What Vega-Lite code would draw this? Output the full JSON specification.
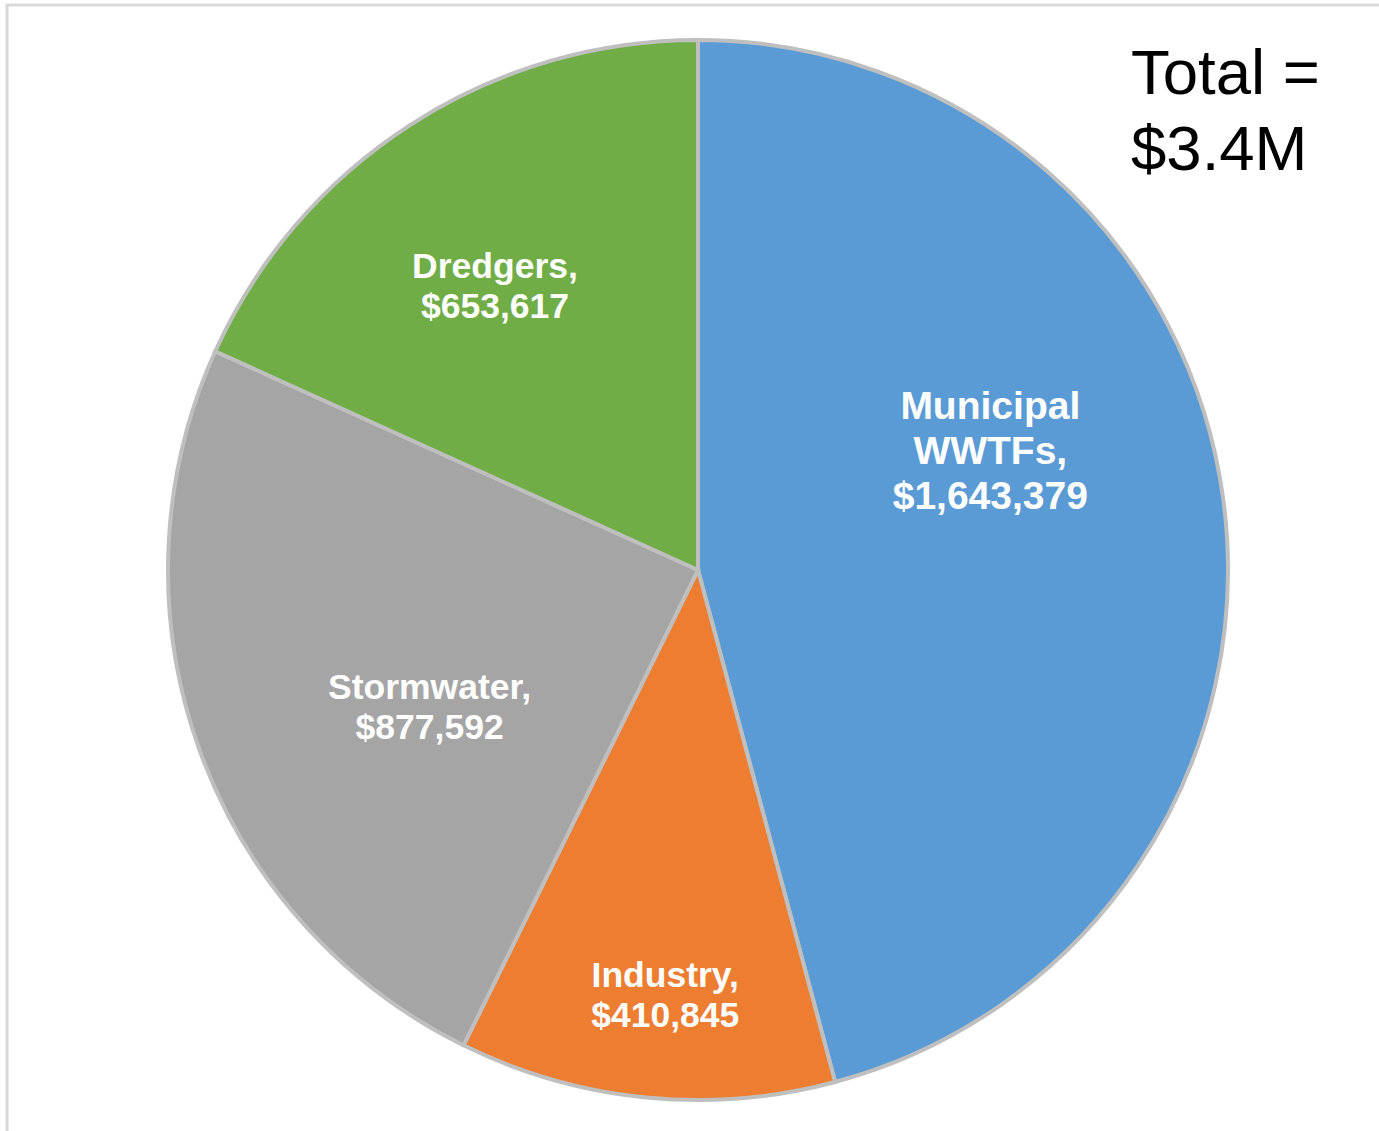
{
  "$schema": "https://vega.github.io/schema/vega-lite/v6.json",
  "autosize": {"type": "none"},
  "padding": {"left": 7, "top": 5, "right": 0, "bottom": 0},
  "width": 1382,
  "height": 1130,
  "background": "white",
  "view": {"stroke": "#D9D9D9", "strokeWidth": 3},
  "title": {
    "text": ["Total =", "$3.4M"],
    "orient": "top",
    "anchor": "end",
    "frame": "group",
    "align": "left",
    "baseline": "top",
    "offset": 0,
    "dx": -258,
    "dy": 178,
    "font": "Liberation Sans",
    "fontSize": 63.5,
    "fontWeight": "normal",
    "color": "#000000",
    "lineHeight": 76
  },
  "data": {
    "values": [
      {"category": "Municipal WWTFs", "value": 1643379, "order": 1, "label": "Municipal\nWWTFs,\n$1,643,379"},
      {"category": "Industry", "value": 410845, "order": 2, "label": "Industry,\n$410,845"},
      {"category": "Stormwater", "value": 877592, "order": 3, "label": "Stormwater,\n$877,592"},
      {"category": "Dredgers", "value": 653617, "order": 4, "label": "Dredgers,\n$653,617"}
    ]
  },
  "encoding": {
    "theta": {"field": "value", "type": "quantitative", "stack": true},
    "order": {"field": "order", "type": "quantitative", "sort": "ascending"}
  },
  "layer": [
    {
      "mark": {"type": "arc", "outerRadius": 530, "stroke": "#BFBFBF", "strokeWidth": 4},
      "encoding": {
        "color": {
          "field": "category",
          "type": "nominal",
          "scale": {
            "domain": ["Municipal WWTFs", "Industry", "Stormwater", "Dredgers"],
            "range": ["#5B9BD5", "#ED7D31", "#A5A5A5", "#70AD47"]
          },
          "legend": null
        }
      }
    },
    {
      "mark": {"type": "text", "radius": 315, "dx": -20, "dy": -122, "font": "Liberation Sans", "fontWeight": "bold", "fontSize": 39, "lineHeight": 45, "lineBreak": "\n", "color": "white", "align": "center", "baseline": "middle"},
      "encoding": {
        "text": {"field": "label", "type": "nominal"},
        "opacity": {"condition": {"test": "datum.category === 'Municipal WWTFs'", "value": 1}, "value": 0}
      }
    },
    {
      "mark": {"type": "text", "radius": 426, "dx": 9, "dy": -18, "font": "Liberation Sans", "fontWeight": "bold", "fontSize": 35.5, "lineHeight": 40, "lineBreak": "\n", "color": "white", "align": "center", "baseline": "middle"},
      "encoding": {
        "text": {"field": "label", "type": "nominal"},
        "opacity": {"condition": {"test": "datum.category === 'Industry'", "value": 1}, "value": 0}
      }
    },
    {
      "mark": {"type": "text", "radius": 301, "dx": 15, "dy": 17, "font": "Liberation Sans", "fontWeight": "bold", "fontSize": 35.5, "lineHeight": 40, "lineBreak": "\n", "color": "white", "align": "center", "baseline": "middle"},
      "encoding": {
        "text": {"field": "label", "type": "nominal"},
        "opacity": {"condition": {"test": "datum.category === 'Stormwater'", "value": 1}, "value": 0}
      }
    },
    {
      "mark": {"type": "text", "radius": 347, "dx": -15, "dy": -11, "font": "Liberation Sans", "fontWeight": "bold", "fontSize": 35.5, "lineHeight": 40, "lineBreak": "\n", "color": "white", "align": "center", "baseline": "middle"},
      "encoding": {
        "text": {"field": "label", "type": "nominal"},
        "opacity": {"condition": {"test": "datum.category === 'Dredgers'", "value": 1}, "value": 0}
      }
    }
  ]
}
